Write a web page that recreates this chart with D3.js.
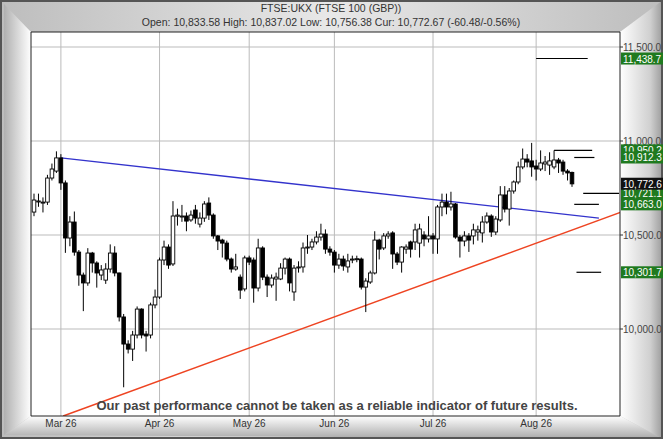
<!DOCTYPE html>
<html><head><meta charset="utf-8">
<script src="https://cdn.jsdelivr.net/npm/d3@7"></script>
<style>
  html, body { margin: 0; padding: 0; background: #fff; }
  svg { display: block; font-family: "Liberation Sans", Arial, sans-serif; }
</style>
</head><body>
<svg id="chart"></svg>
<script>
/* ------------ DATA --------------------------------------------------- */
const opens  = [10622,10676,10672,10675,10803,10840,10910,10777,10484,10569,10409,10287,10245,10404,10351,10287,10260,10319,10404,10298,
  10064,9920,9893,9968,10106,9973,9968,10128,10170,10367,10436,10346,10600,10598,10601,10580,10633,10558,10590,10670,
  10606,10495,10473,10457,10372,10319,10276,10213,10378,10367,10218,10431,10276,10234,10266,10266,10324,10372,10197,10328,
  10330,10431,10436,10463,10489,10505,10425,10409,10340,10372,10330,10370,10372,10372,10223,10250,10298,10473,10431,10495,
  10511,10399,10356,10425,10463,10463,10457,10500,10479,10495,10479,10649,10675,10649,10665,10489,10468,10495,10495,10516,
  10511,10569,10601,10516,10580,10713,10638,10734,10782,10862,10904,10894,10867,10851,10878,10872,10862,10899,10888,10840,10833];
const closes = [10686,10681,10675,10803,10851,10910,10777,10484,10569,10409,10287,10245,10404,10351,10298,10314,10319,10404,10298,10064,
  9920,9893,9968,10106,9968,9963,10128,10170,10367,10436,10340,10601,10606,10601,10574,10606,10590,10590,10665,10606,
  10495,10468,10457,10372,10319,10330,10207,10378,10356,10218,10431,10276,10234,10271,10276,10324,10372,10245,10324,10330,
  10431,10436,10463,10489,10505,10425,10409,10340,10372,10335,10362,10372,10374,10223,10255,10298,10473,10425,10495,10505,
  10399,10356,10436,10436,10425,10527,10532,10479,10495,10479,10649,10675,10649,10665,10489,10468,10495,10473,10527,10527,
  10569,10601,10516,10585,10713,10638,10734,10782,10862,10904,10888,10862,10851,10883,10888,10894,10899,10883,10840,10830,10772];
const highs  = [10720,10720,10700,10820,10880,10945,10930,10790,10600,10625,10420,10300,10430,10410,10360,10340,10350,10450,10440,10300,
  10080,9940,9990,10120,10110,9990,10140,10210,10380,10470,10450,10680,10640,10660,10620,10630,10660,10620,10680,10700,
  10615,10500,10480,10470,10380,10400,10290,10390,10390,10380,10480,10440,10290,10290,10300,10350,10380,10380,10340,10360,
  10460,10500,10480,10520,10560,10530,10440,10420,10400,10390,10400,10390,10390,10380,10270,10310,10520,10480,10510,10520,
  10520,10410,10440,10450,10470,10560,10560,10520,10600,10510,10660,10720,10720,10730,10670,10500,10520,10510,10560,10550,
  10600,10620,10610,10600,10760,10760,10750,10790,10890,10960,10930,10990,10900,10950,10920,10940,10950,10910,10900,10850,10837];
const lows   = [10600,10650,10620,10660,10790,10830,10740,10405,10440,10390,10230,10095,10230,10300,10220,10260,10240,10300,10280,10040,
  9690,9870,9830,9950,9950,9880,9950,10110,10160,10340,10320,10335,10550,10570,10520,10570,10560,10540,10570,10580,
  10480,10420,10380,10360,10300,10310,10160,10200,10340,10140,10200,10260,10170,10220,10150,10260,10290,10200,10150,10300,
  10300,10400,10420,10450,10470,10400,10390,10300,10320,10310,10300,10350,10355,10210,10090,10240,10290,10370,10420,10480,
  10320,10340,10300,10400,10380,10420,10380,10440,10460,10400,10400,10600,10610,10630,10480,10380,10440,10410,10450,10470,
  10460,10560,10490,10500,10570,10620,10550,10720,10770,10850,10860,10810,10790,10840,10840,10820,10850,10830,10820,10790,10756];

const monthIdx    = [6, 28, 48, 67, 89, 112];
const monthLabels = ['Mar 26', 'Apr 26', 'May 26', 'Jun 26', 'Jul 26', 'Aug 26'];
const yTicks      = [10000, 10500, 11000, 11500];

// trendlines: [candle index, price]
const blueLine = [[6, 10910], [126, 10590]];
const redLine  = [[6.5, 9537], [131, 10622]];

// target levels: [price, from index, to index]
const targets = [[11438.7, 112, 123.5], [10950.2, 116, 124.5], [10912.3, 120.5, 125], [10721.1, 122.5, 130.5], [10663.0, 120.5, 126], [10301.7, 121, 126.5]];
const targetLabels = ['11,438.7', '10,950.2', '10,912.3', '10,721.1', '10,663.0', '10,301.7'];
const curPrice = 10772.67, curLabel = '10,772.6';

/* ------------ SETUP -------------------------------------------------- */
const W = 663, H = 439;
const P = { l: 31, t: 32, r: 620, b: 416 };

const svg = d3.select('#chart').attr('width', W).attr('height', H);
const x = d3.scaleLinear().domain([0, 120]).range([34, 572]);
const y = d3.scaleLinear().domain([10000, 11000]).range([329, 141]);

/* ------------ FRAME -------------------------------------------------- */
const defs = svg.append('defs');
const grad = (id, x1, y1, x2, y2, stops) => {
  const g = defs.append('linearGradient').attr('id', id)
    .attr('x1', x1).attr('y1', y1).attr('x2', x2).attr('y2', y2);
  stops.forEach(([o, c]) => g.append('stop').attr('offset', o).attr('stop-color', c));
};
grad('bg', '0', '0', '1', '0', [[0, '#bdbdbd'], [0.5, '#e8e8e8'], [1, '#bdbdbd']]);
grad('leftWall', '0', '0', '1', '0', [[0, '#b0b0b0'], [1, '#ffffff']]);
grad('floor', '0', '0', '0', '1', [[0, '#ffffff'], [1, '#a8a8a8']]);
grad('rightWall', '0', '0', '1', '0', [[0, '#ffffff'], [0.7, '#d0d0d0'], [1, '#9a9a9a']]);
defs.append('clipPath').attr('id', 'plotClip').append('rect')
  .attr('x', P.l).attr('y', P.t).attr('width', P.r - P.l).attr('height', P.b - P.t);

svg.append('rect').attr('width', W).attr('height', H).attr('fill', 'url(#bg)');
svg.append('polygon').attr('points', `4,4 ${P.l},${P.t} ${P.l},${P.b} 4,435`).attr('fill', 'url(#leftWall)');
svg.append('polygon').attr('points', `${P.l},${P.b} ${P.r},${P.b} ${W},439 4,435`).attr('fill', 'url(#floor)');
svg.append('polygon').attr('points', `${P.r},${P.t} ${W},0 ${W},439 ${P.r},${P.b}`).attr('fill', 'url(#rightWall)');
svg.append('rect').attr('x', 1).attr('y', 1).attr('width', W - 2).attr('height', H - 2)
  .attr('fill', 'none').attr('stroke', '#555').attr('stroke-width', 2);

/* ------------ PLOT --------------------------------------------------- */
svg.append('rect').attr('x', P.l).attr('y', P.t).attr('width', P.r - P.l).attr('height', P.b - P.t)
  .attr('fill', '#fff');

const plot = svg.append('g').attr('clip-path', 'url(#plotClip)');

plot.selectAll('line.vg').data(monthIdx).join('line')
  .attr('x1', d => x(d)).attr('x2', d => x(d)).attr('y1', P.t).attr('y2', P.b)
  .attr('stroke', '#bbb');
plot.selectAll('line.hg').data(yTicks).join('line')
  .attr('x1', P.l).attr('x2', P.r).attr('y1', d => y(d)).attr('y2', d => y(d))
  .attr('stroke', '#bbb');

const line = d3.line().x(d => x(d[0])).y(d => y(d[1]));
plot.append('path').attr('d', line(blueLine)).attr('stroke', '#3333cc').attr('stroke-width', 1.3).attr('fill', 'none');
plot.append('path').attr('d', line(redLine)).attr('stroke', '#ee4422').attr('stroke-width', 1.5).attr('fill', 'none');

const candles = opens.map((o, i) => ({ i, o, c: closes[i], h: highs[i], l: lows[i] }));
const cg = plot.selectAll('g.candle').data(candles).join('g');
cg.append('line')
  .attr('x1', d => x(d.i)).attr('x2', d => x(d.i))
  .attr('y1', d => y(d.h)).attr('y2', d => y(d.l))
  .attr('stroke', '#000');
cg.append('rect')
  .attr('x', d => x(d.i) - 1.8).attr('width', 3.6)
  .attr('y', d => y(Math.max(d.o, d.c)))
  .attr('height', d => Math.max(1, Math.abs(y(d.o) - y(d.c))))
  .attr('fill', d => d.c >= d.o ? '#fff' : '#000')
  .attr('stroke', '#000').attr('stroke-width', 0.9);

plot.selectAll('line.tgt').data(targets).join('line')
  .attr('x1', d => x(d[1])).attr('x2', d => x(d[2]))
  .attr('y1', d => y(d[0])).attr('y2', d => y(d[0]))
  .attr('stroke', '#000').attr('stroke-width', 1.2);

svg.append('path')
  .attr('d', `M${P.l},${P.t}H${P.r}V${P.b}H${P.l}Z`)
  .attr('fill', 'none').attr('stroke', '#222');

/* ------------ AXES / LABELS ----------------------------------------- */
svg.selectAll('text.mon').data(monthIdx).join('text')
  .attr('x', d => x(d)).attr('y', 427).attr('text-anchor', 'middle')
  .attr('font-size', 10).attr('fill', '#333')
  .text((d, i) => monthLabels[i]);

svg.selectAll('text.yt').data(yTicks).join('text')
  .attr('x', 623).attr('y', d => y(d) + 4)
  .attr('font-size', 10).attr('fill', '#444')
  .text(d => d3.format(',.1f')(d));
svg.selectAll('line.ytk').data(yTicks).join('line')
  .attr('x1', P.r).attr('x2', P.r + 3).attr('y1', d => y(d)).attr('y2', d => y(d)).attr('stroke', '#333');

const tl = svg.selectAll('g.tl').data(targets).join('g')
  .attr('transform', d => `translate(621,${y(d[0]) - 6})`);
tl.append('rect').attr('width', 44).attr('height', 12).attr('fill', '#1f7a1f');
tl.append('text').attr('x', 2).attr('y', 10).attr('font-size', 10).attr('fill', '#fff')
  .text((d, i) => targetLabels[i]);

const cur = svg.append('g').attr('transform', `translate(621,${y(curPrice) - 6})`);
cur.append('rect').attr('width', 44).attr('height', 12).attr('fill', '#111');
cur.append('text').attr('x', 2).attr('y', 10).attr('font-size', 10).attr('fill', '#fff').text(curLabel);

svg.append('text').attr('x', 331).attr('y', 12).attr('text-anchor', 'middle')
  .attr('font-size', 10.5).attr('fill', '#333').text('FTSE:UKX (FTSE 100 (GBP))');
svg.append('text').attr('x', 331).attr('y', 26).attr('text-anchor', 'middle')
  .attr('font-size', 10.5).attr('fill', '#333')
  .text('Open: 10,833.58 High: 10,837.02 Low: 10,756.38 Cur: 10,772.67 (-60.48/-0.56%)');

svg.append('text').attr('x', 337).attr('y', 410).attr('text-anchor', 'middle')
  .attr('font-size', 13).attr('font-weight', 'bold').attr('fill', '#444')
  .attr('textLength', 481).attr('lengthAdjust', 'spacingAndGlyphs')
  .text('Our past performance cannot be taken as a reliable indicator of future results.');
</script>
</body></html>
